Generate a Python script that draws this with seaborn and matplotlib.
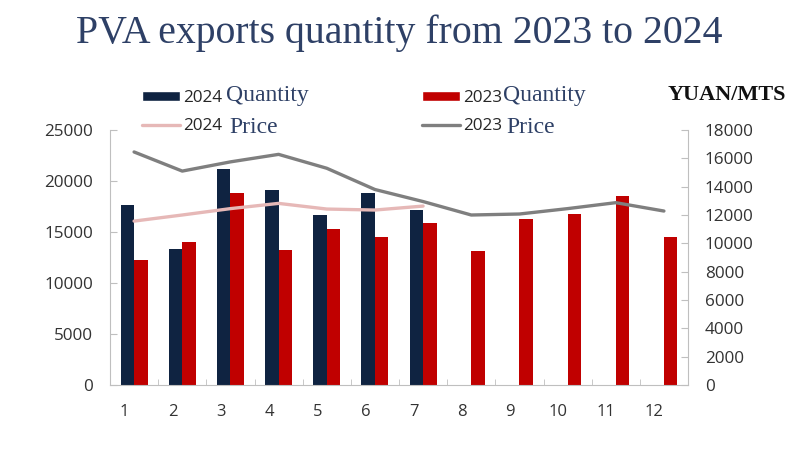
import numpy as np
import pandas as pd
import matplotlib
matplotlib.use('Agg')
import matplotlib.pyplot as plt
import matplotlib.transforms as mtransforms
import seaborn as sns
from matplotlib.patches import Patch
from matplotlib.lines import Line2D

# values
months = ['1', '2', '3', '4', '5', '6', '7', '8', '9', '10', '11', '12']
qty_2024 = [17600, 13300, 21200, 19100, 16700, 18800, 17200]
qty_2023 = [12300, 14000, 18800, 13200, 15300, 14500, 15900, 13100, 16300, 16800, 18500, 14500]
price_2024 = [11570, 12000, 12450, 12820, 12420, 12350, 12630]
price_2023 = [16450, 15100, 15750, 16280, 15300, 13800, 12950, 12000, 12070, 12450, 12870, 12280]

navy = '#0f2341'
red = '#c00000'
pink = '#e6b8b7'
grey = '#7f7f7f'
title_col = '#2e4066'

qty_df = pd.concat([
    pd.DataFrame({'month': months[:len(qty_2024)], 'year': '2024', 'qty': qty_2024}),
    pd.DataFrame({'month': months, 'year': '2023', 'qty': qty_2023}),
])
price_df = pd.concat([
    pd.DataFrame({'month': months[:len(price_2024)], 'year': '2024', 'price': price_2024}),
    pd.DataFrame({'month': months, 'year': '2023', 'price': price_2023}),
])
price_df['pos'] = price_df['month'].map({m: i for i, m in enumerate(months)})

sns.set_style('white')
plt.rcParams['font.family'] = ['Open Sans', 'DejaVu Sans']

fig = plt.figure(figsize=(8, 4.76), dpi=100)
ax = fig.add_axes([110 / 800, 1 - 385 / 476, 578 / 800, 255 / 476])

sns.barplot(data=qty_df, x='month', y='qty', hue='year', order=months,
            hue_order=['2024', '2023'], palette=[navy, red], width=0.56,
            saturation=1, linewidth=0, ax=ax, legend=False)
ax.set_xlim(-0.5, len(months) - 0.5)
ax.set_ylim(0, 25000)
ax.set_yticks(range(0, 25001, 5000))
ax.set_xlabel('')
ax.set_ylabel('')

ax2 = ax.twinx()
sns.lineplot(data=price_df, x='pos', y='price', hue='year', hue_order=['2024', '2023'],
             palette=[pink, grey], linewidth=2.4, ax=ax2, legend=False)
ax2.set_ylim(0, 18000)
ax2.set_yticks(range(0, 18001, 2000))
ax2.set_xlim(-0.5, len(months) - 0.5)
ax2.set_xlabel('')
ax2.set_ylabel('')

spine_col = '#bfbfbf'
for a in (ax, ax2):
    a.spines['top'].set_visible(False)
    for s in ('left', 'right', 'bottom'):
        a.spines[s].set_color(spine_col)
ax.spines['right'].set_visible(False)
ax2.spines['left'].set_visible(False)
ax2.spines['bottom'].set_visible(False)

ax.set_xticks(range(len(months)))
ax.set_xticklabels(months)
ax.set_xticks(np.arange(0.5, len(months) - 0.5, 1), minor=True)
ax.tick_params(axis='x', which='major', length=0, pad=14, labelsize=12, labelcolor='#333333')
ax.tick_params(axis='x', which='minor', direction='in', length=4, color=spine_col, bottom=True)
ax.tick_params(axis='y', direction='in', length=5, color=spine_col, left=True, pad=12,
               labelsize=12.3, labelcolor='#333333')
ax2.tick_params(axis='y', direction='in', length=5, color=spine_col, right=True, pad=12,
                labelsize=12.3, labelcolor='#333333')

# month labels sit a little left of the bar pairs in the original
shift = mtransforms.ScaledTranslation(-9.5 / 100, 0, fig.dpi_scale_trans)
for lbl in ax.get_xticklabels():
    lbl.set_transform(lbl.get_transform() + shift)

fig.text(0.499, 1 - 33 / 476, 'PVA exports quantity from 2023 to 2024', ha='center', va='center',
         family='Liberation Serif', fontsize=28.6, color=title_col)
fig.text(727 / 800, 1 - 95 / 476, 'YUAN/MTS', ha='center', va='center',
         family='Liberation Serif', fontweight='bold', fontsize=16, color='#111111')

handles = [Patch(facecolor=navy), Line2D([], [], color=pink, lw=2.4),
           Patch(facecolor=red), Line2D([], [], color=grey, lw=2.4)]
fig.legend(handles, ['2024', '2024', '2023', '2023'], ncol=2, frameon=False,
           loc='center left', bbox_to_anchor=(142 / 800, 1 - 112 / 476),
           fontsize=12.3, handlelength=2.2, handleheight=0.55, handletextpad=0.2,
           columnspacing=11.7, labelspacing=0.72, borderpad=0, borderaxespad=0)

serif_kw = dict(family='Liberation Serif', fontsize=17, color=title_col, va='center')
fig.text(226 / 800, 1 - 96 / 476, 'Quantity', **serif_kw)
fig.text(229 / 800, 1 - 128 / 476, 'Price', **serif_kw)
fig.text(503 / 800, 1 - 96 / 476, 'Quantity', **serif_kw)
fig.text(506 / 800, 1 - 128 / 476, 'Price', **serif_kw)

fig.savefig('out.png', dpi=100)
